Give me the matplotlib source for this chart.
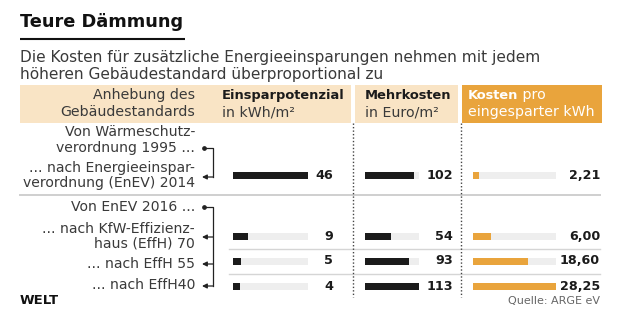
import matplotlib.pyplot as plt
from matplotlib.patches import Rectangle

plt.rcParams['font.family'] = ['DejaVu Sans']

# data
einsparpotenzial = [46, 9, 5, 4]            # kWh/m2
mehrkosten = [102, 54, 93, 113]             # Euro/m2
kosten_pro_kwh = [2.21, 6.00, 18.60, 28.25]  # Euro

group1_labels = ["Von Wärmeschutz-", "verordnung 1995 ...",
                 "... nach Energieeinspar-", "verordnung (EnEV) 2014"]
group2_labels = ["Von EnEV 2016 ...", "... nach KfW-Effizienz-",
                 "haus (EffH) 70", "... nach EffH 55", "... nach EffH40"]

title = "Teure Dämmung"
subtitle = ["Die Kosten für zusätzliche Energieeinsparungen nehmen mit jedem",
            "höheren Gebäudestandard überproportional zu"]

# colours
TXT = '#3a3a3a'
BLACK = '#1b1b1b'
ORANGE = '#e9a43c'
BEIGE = '#f9e4c5'
TRACK = '#eeeeee'

W, H = 620, 322
fig = plt.figure(figsize=(W / 100, H / 100), dpi=100, facecolor='white')
ax = fig.add_axes([0, 0, 1, 1])
ax.set_xlim(0, W)
ax.set_ylim(H, 0)
ax.axis('off')

# title + subtitle
ax.text(20, 22, title, fontsize=12.8, fontweight='bold', color='#111111', va='center')
ax.plot([20, 185], [39, 39], color='#111111', lw=1.5, solid_capstyle='butt')
ax.text(20, 57, subtitle[0], fontsize=11.1, color=TXT, va='center')
ax.text(20, 74, subtitle[1], fontsize=11.1, color=TXT, va='center')

# header band
ax.add_patch(Rectangle((20, 85), 331, 38, color=BEIGE, lw=0))
ax.add_patch(Rectangle((355, 85), 103, 38, color=BEIGE, lw=0))
ax.add_patch(Rectangle((462, 85), 140, 38, color=ORANGE, lw=0))

hs = 10.2   # normal header text
hb = 9.4    # bold header text
ax.text(195, 95, "Anhebung des", fontsize=hs, color=TXT, ha='right', va='center')
ax.text(195, 112, "Gebäudestandards", fontsize=hs, color=TXT, ha='right', va='center')
ax.text(222, 95, "Einsparpotenzial", fontsize=hb, fontweight='bold', color=BLACK, va='center')
ax.text(222, 112, "in kWh/m²", fontsize=hs, color=TXT, va='center')
ax.text(365, 95, "Mehrkosten", fontsize=hb, fontweight='bold', color=BLACK, va='center')
ax.text(365, 112, "in Euro/m²", fontsize=hs, color=TXT, va='center')
t = ax.text(468, 95, "Kosten", fontsize=hb, fontweight='bold', color='white', va='center')
ax.annotate(" pro", xy=(1, 0.5), xycoords=t, fontsize=hs, color='white', va='center')
ax.text(468, 112, "eingesparter kWh", fontsize=hs, color='white', va='center')

# row labels
ls = 10.1
for y, s in zip([132, 148, 168, 183], group1_labels):
    ax.text(195, y, s, fontsize=ls, color=TXT, ha='right', va='center')
for y, s in zip([207, 229, 243, 264, 285], group2_labels):
    ax.text(195, y, s, fontsize=ls, color=TXT, ha='right', va='center')

# brackets
bk = dict(color='#222222', lw=0.9)
arr = dict(arrowstyle='-|>', color='#222222', lw=0.9, mutation_scale=7, shrinkA=0, shrinkB=0)
ax.plot([204, 213, 213], [148, 148, 177], **bk)
ax.plot(204, 148, 'o', color='#222222', ms=2.4)
ax.annotate('', xy=(202, 177), xytext=(213, 177), arrowprops=arr)
ax.plot([204, 213, 213], [207, 207, 286], **bk)
ax.plot(204, 207, 'o', color='#222222', ms=2.4)
for y in [237, 264, 286]:
    ax.annotate('', xy=(202, y), xytext=(213, y), arrowprops=arr)

# separators
ax.plot([20, 600], [195, 195], color='#cfcfcf', lw=1.4)
ax.plot([229, 600], [249, 249], color='#d5d5d5', lw=1.0)
ax.plot([229, 600], [274, 274], color='#d5d5d5', lw=1.0)
for x in [353, 461]:
    ax.plot([x, x], [123, 297], color='#444444', lw=1.0, ls=(0, (1, 1.5)))

# bar columns
row_y = [175, 236, 261, 286]
columns = [
    (einsparpotenzial, 233, 308, BLACK, 333, lambda v: f"{v}"),
    (mehrkosten, 365, 419, BLACK, 453, lambda v: f"{v}"),
    (kosten_pro_kwh, 473, 556, ORANGE, 600, lambda v: f"{v:.2f}".replace('.', ',')),
]
y_top, y_bot = 123, 297
for values, x0, x1, col, xv, fmt in columns:
    bax = fig.add_axes([x0 / W, 1 - y_bot / H, (x1 - x0) / W, (y_bot - y_top) / H])
    bax.set_xlim(0, max(values))
    bax.set_ylim(y_bot, y_top)
    bax.axis('off')
    bax.barh(row_y, [max(values)] * len(values), height=7, color=TRACK, lw=0)
    bax.barh(row_y, values, height=7, color=col, lw=0)
    for y, v in zip(row_y, values):
        ax.text(xv, y, fmt(v), fontsize=9.2, fontweight='bold', color=BLACK,
                ha='right', va='center')

# footer
ax.text(20, 300, "WELT", fontsize=9.5, fontweight='heavy', color='#111111', va='center')
ax.text(600, 301, "Quelle: ARGE eV", fontsize=8, color='#666666', ha='right', va='center')

fig.savefig('out.png', dpi=100)
